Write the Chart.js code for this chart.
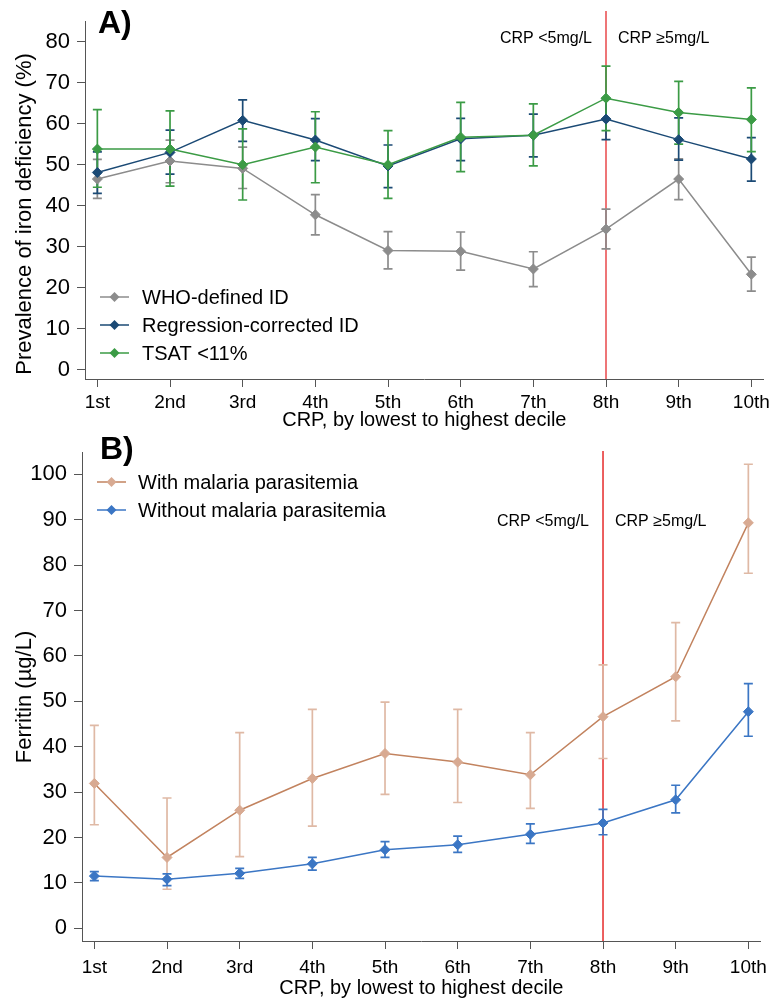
<!DOCTYPE html>
<html>
<head>
<meta charset="utf-8">
<script src="https://cdn.jsdelivr.net/npm/chart.js@4/dist/chart.umd.min.js"></script>
<style>
  body { margin: 0; background: #fff; }
  canvas { display: block; }
</style>
</head>
<body>
<canvas id="chartA" width="774" height="430"></canvas>
<canvas id="chartB" width="774" height="568"></canvas>
<script>
// deciles of CRP
const deciles = ['1st', '2nd', '3rd', '4th', '5th', '6th', '7th', '8th', '9th', '10th'];

// panel A - prevalence of iron deficiency (%)
const whoVal = [46.5, 50.9, 49.1, 37.8, 29.1, 28.9, 24.6, 34.3, 46.5, 23.3];
const whoLo  = [41.8, 45.6, 44.2, 32.9, 24.6, 24.3, 20.3, 29.5, 41.5, 19.2];
const whoHi  = [51.3, 56.0, 54.3, 42.7, 33.7, 33.6, 28.8, 39.2, 51.4, 27.5];

const regVal = [48.1, 53.0, 60.8, 56.0, 49.7, 56.3, 57.2, 61.1, 56.1, 51.4];
const regLo  = [43.0, 47.7, 55.7, 51.0, 44.4, 51.0, 51.9, 56.1, 51.1, 46.0];
const regHi  = [53.1, 58.4, 65.8, 61.2, 54.8, 61.3, 62.3, 66.0, 61.4, 56.6];

const tsatVal = [53.8, 53.8, 50.0, 54.3, 50.0, 56.7, 57.2, 66.2, 62.7, 61.0];
const tsatLo  = [44.5, 44.8, 41.4, 45.6, 41.8, 48.3, 49.7, 58.3, 55.0, 53.2];
const tsatHi  = [63.4, 63.1, 58.7, 62.9, 58.3, 65.2, 64.8, 74.0, 70.3, 68.7];

// panel B - ferritin (µg/L)
const malVal = [31.9, 15.6, 26.0, 33.0, 38.5, 36.6, 33.8, 46.6, 55.4, 89.3];
const malLo  = [22.8, 8.6, 15.8, 22.5, 29.5, 27.7, 26.4, 37.4, 45.7, 78.2];
const malHi  = [44.7, 28.7, 43.1, 48.2, 49.8, 48.2, 43.1, 58.0, 67.3, 102.2];

const noVal = [11.5, 10.8, 12.1, 14.2, 17.3, 18.4, 20.7, 23.2, 28.3, 47.7];
const noLo  = [10.5, 9.4, 11.0, 12.8, 15.6, 16.7, 18.7, 20.6, 25.4, 42.3];
const noHi  = [12.5, 12.0, 13.2, 15.6, 19.1, 20.3, 23.0, 26.2, 31.5, 53.9];

const yTicksA = [0, 10, 20, 30, 40, 50, 60, 70, 80];
const yTicksB = [0, 10, 20, 30, 40, 50, 60, 70, 80, 90, 100];
const crpCut = 8; // red line at the 8th decile

const FONT = "'Liberation Sans', Arial, sans-serif";
const AXIS = '#555';

const pts = arr => arr.map((v, i) => ({ x: i + 1, y: v }));

function series(label, vals, lo, hi, line, marker, err, order) {
    return {
        label: label,
        data: pts(vals),
        errLo: lo,
        errHi: hi,
        errColor: err,
        borderColor: line,
        backgroundColor: marker,
        pointBackgroundColor: marker,
        pointBorderColor: marker,
        borderWidth: 1.5,
        pointStyle: 'rectRot',
        pointRadius: 5,
        pointBorderWidth: 1,
        tension: 0,
        order: order
    };
}

// error bars, red line, panel letters, axis title, CRP labels and legend
const extras = {
    id: 'extras',
    beforeDatasetsDraw(chart, args, opts) {
        const { ctx, chartArea, scales: { x, y } } = chart;
        const xr = x.getPixelForValue(crpCut);
        ctx.save();
        ctx.strokeStyle = opts.lineColor;
        ctx.lineWidth = 1.5;
        ctx.beginPath();
        ctx.moveTo(xr, chartArea.top - opts.lineExtra);
        ctx.lineTo(xr, chartArea.bottom);
        ctx.stroke();

        const sets = chart.data.datasets.slice().sort((a, b) => b.order - a.order);
        sets.forEach(ds => {
            ctx.strokeStyle = ds.errColor;
            ctx.lineWidth = 1.7;
            ds.data.forEach((p, i) => {
                const px = x.getPixelForValue(p.x);
                const y0 = y.getPixelForValue(ds.errLo[i]);
                const y1 = y.getPixelForValue(ds.errHi[i]);
                ctx.beginPath();
                ctx.moveTo(px, y0); ctx.lineTo(px, y1);
                ctx.moveTo(px - 4.5, y0); ctx.lineTo(px + 4.5, y0);
                ctx.moveTo(px - 4.5, y1); ctx.lineTo(px + 4.5, y1);
                ctx.stroke();
            });
        });
        ctx.restore();
    },
    afterDraw(chart, args, opts) {
        const { ctx, scales: { x } } = chart;
        const xr = x.getPixelForValue(crpCut);
        ctx.save();
        ctx.fillStyle = '#000';
        ctx.textBaseline = 'middle';

        ctx.font = 'bold 32px ' + FONT;
        ctx.textAlign = 'left';
        ctx.fillText(opts.letter, opts.letterX, opts.letterY);

        // y axis title
        ctx.save();
        ctx.font = '22px ' + FONT;
        ctx.textAlign = 'center';
        ctx.translate(opts.yTitleX, opts.yTitleY);
        ctx.rotate(-Math.PI / 2);
        ctx.fillText(opts.yTitle, 0, 0);
        ctx.restore();

        ctx.font = '16px ' + FONT;
        ctx.textAlign = 'right';
        ctx.fillText('CRP <5mg/L', xr - 14, opts.crpY);
        ctx.textAlign = 'left';
        ctx.fillText('CRP \u22655mg/L', xr + 12, opts.crpY);

        // legend
        ctx.font = '20px ' + FONT;
        chart.data.datasets.forEach((ds, i) => {
            const ly = opts.legendY + i * opts.legendGap;
            const x0 = opts.legendX, x1 = x0 + 29, xm = (x0 + x1) / 2;
            ctx.strokeStyle = ds.borderColor;
            ctx.lineWidth = 1.5;
            ctx.beginPath(); ctx.moveTo(x0, ly); ctx.lineTo(x1, ly); ctx.stroke();
            ctx.fillStyle = ds.pointBackgroundColor;
            ctx.beginPath();
            ctx.moveTo(xm - 5, ly); ctx.lineTo(xm, ly - 5); ctx.lineTo(xm + 5, ly); ctx.lineTo(xm, ly + 5);
            ctx.closePath(); ctx.fill();
            ctx.fillStyle = '#000';
            ctx.fillText(ds.label, x0 + opts.textGap, ly + 1);
        });
        ctx.restore();
    }
};

function makeOptions(cfg) {
    return {
        responsive: false,
        animation: false,
        devicePixelRatio: 1,
        layout: { padding: { top: cfg.top, right: cfg.right, left: 0, bottom: 0 } },
        plugins: {
            legend: { display: false },
            tooltip: { enabled: false },
            extras: cfg.extras
        },
        scales: {
            x: {
                type: 'linear',
                min: 0.83,
                max: 10.17,
                afterFit: s => { s.height = cfg.xHeight; },
                afterBuildTicks: s => { s.ticks = deciles.map((d, i) => ({ value: i + 1 })); },
                ticks: {
                    callback: v => deciles[v - 1],
                    color: '#000',
                    padding: cfg.xPad,
                    font: { family: FONT, size: 19 },
                    maxRotation: 0
                },
                grid: { drawOnChartArea: false, drawTicks: true, tickLength: 8, color: AXIS },
                border: { color: AXIS, width: 1 },
                title: {
                    display: true,
                    text: 'CRP, by lowest to highest decile',
                    color: '#000',
                    font: { family: FONT, size: 20, lineHeight: 1 },
                    padding: { top: 0, bottom: cfg.titlePad }
                }
            },
            y: {
                min: cfg.yMin,
                max: cfg.yMax,
                afterFit: s => { s.width = cfg.yWidth; },
                afterBuildTicks: s => { s.ticks = cfg.yTicks.map(v => ({ value: v })); },
                ticks: {
                    color: '#000',
                    padding: 7,
                    font: { family: FONT, size: 22 }
                },
                grid: { drawOnChartArea: false, drawTicks: true, tickLength: 8, color: AXIS },
                border: { color: AXIS, width: 1 }
            }
        }
    };
}

new Chart(document.getElementById('chartA').getContext('2d'), {
    type: 'line',
    data: {
        datasets: [
            series('WHO-defined ID', whoVal, whoLo, whoHi, '#8c8c8c', '#8c8c8c', '#8c8c8c', 3),
            series('Regression-corrected ID', regVal, regLo, regHi, '#1b4a75', '#1b4a75', '#1b4a75', 2),
            series('TSAT <11%', tsatVal, tsatLo, tsatHi, '#3b9b45', '#3b9b45', '#3b9b45', 1)
        ]
    },
    options: makeOptions({
        top: 21, right: 10, xHeight: 51, yWidth: 85, xPad: 4, titlePad: 0,
        yMin: -2.2, yMax: 85, yTicks: yTicksA,
        extras: {
            lineColor: '#e8474a', lineExtra: 10, letter: 'A)', letterX: 98, letterY: 24, crpY: 39,
            legendX: 100, legendY: 297, legendGap: 28, textGap: 42,
            yTitle: 'Prevalence of iron deficiency (%)', yTitleX: 25, yTitleY: 214
        }
    }),
    plugins: [extras]
});

new Chart(document.getElementById('chartB').getContext('2d'), {
    type: 'line',
    data: {
        datasets: [
            series('With malaria parasitemia', malVal, malLo, malHi, '#c2835f', '#d8aa92', '#dfb9a5', 2),
            series('Without malaria parasitemia', noVal, noLo, noHi, '#3b76c4', '#3b76c4', '#3b76c4', 1)
        ]
    },
    options: makeOptions({
        top: 22, right: 9, xHeight: 57, yWidth: 82, xPad: 7, titlePad: 0,
        yMin: -2.8, yMax: 104.9, yTicks: yTicksB,
        extras: {
            lineColor: '#e62a2a', lineExtra: 1, letter: 'B)', letterX: 100, letterY: 20, crpY: 92,
            legendX: 97, legendY: 52, legendGap: 28, textGap: 41,
            yTitle: 'Ferritin (\u00b5g/L)', yTitleX: 25, yTitleY: 267
        }
    }),
    plugins: [extras]
});
</script>
</body>
</html>
